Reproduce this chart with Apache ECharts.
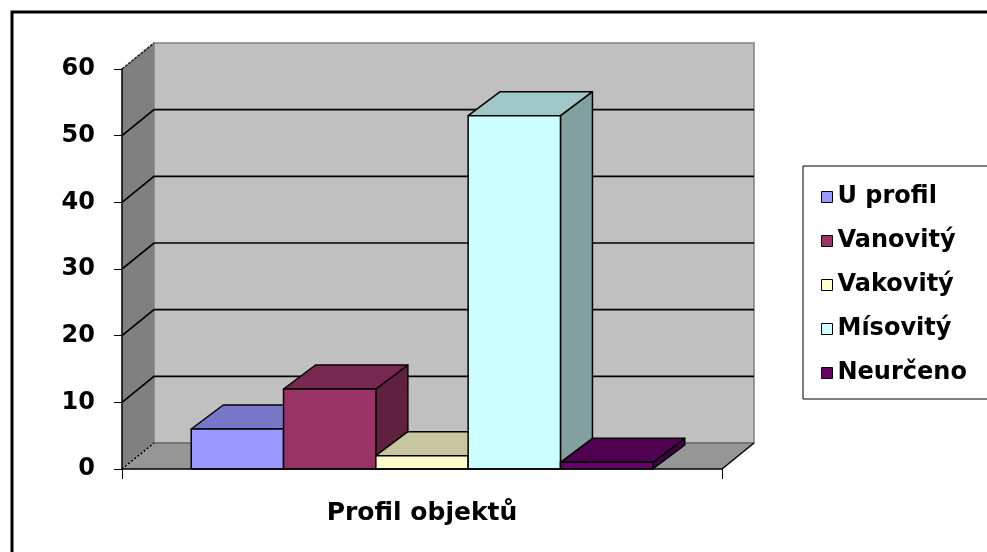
<!DOCTYPE html>
<html>
<head>
<meta charset="utf-8">
<script src="https://cdn.jsdelivr.net/npm/echarts@6/dist/echarts.min.js"></script>
<style>
  html, body { margin: 0; padding: 0; background: #fff; }
  #chart { width: 987px; height: 552px; }
</style>
</head>
<body>
<div id="chart"></div>
<script>
// data
const categories = ['Profil objektů'];
const seriesNames = ['U profil', 'Vanovitý', 'Vakovitý', 'Mísovitý', 'Neurčeno'];
const seriesValues = [6, 12, 2, 53, 1];
const yTicks = [0, 10, 20, 30, 40, 50, 60];
const frontColors = ['#9999FF', '#993366', '#FFFFCC', '#CCFFFF', '#660066'];

const FONT = 'DejaVu Sans';
const DEPTH_X = 32, DEPTH_Y = -26;   // wall depth
const BAR_DX = 32, BAR_DY = -24;     // bar depth

// darker shade of a hex colour for top/side faces
function shade(hex, f) {
  const n = parseInt(hex.slice(1), 16);
  const r = Math.round(((n >> 16) & 255) * f);
  const g = Math.round(((n >> 8) & 255) * f);
  const b = Math.round((n & 255) * f);
  return 'rgb(' + r + ',' + g + ',' + b + ')';
}

// back wall, side wall, floor and grid lines
function renderWalls(params, api) {
  const cs = params.coordSys;
  const x0 = cs.x, x1 = cs.x + cs.width;
  const yb = api.coord([0, yTicks[0]])[1];
  const yT = api.coord([0, yTicks[yTicks.length - 1]])[1];
  const dx = DEPTH_X, dy = DEPTH_Y;
  const children = [
    { type: 'rect', shape: { x: x0 + dx, y: yT + dy, width: x1 - x0, height: yb - yT },
      style: { fill: '#C0C0C0', stroke: '#808080', lineWidth: 1.5 } },
    { type: 'polygon', shape: { points: [[x0, yb], [x0, yT], [x0 + dx, yT + dy], [x0 + dx, yb + dy]] },
      style: { fill: '#808080' } },
    { type: 'polygon', shape: { points: [[x0, yb], [x1, yb], [x1 + dx, yb + dy], [x0 + dx, yb + dy]] },
      style: { fill: '#969696' } },
    { type: 'line', shape: { x1: x0 + dx, y1: yb + dy, x2: x1 + dx, y2: yb + dy },
      style: { stroke: '#6a6a6a', lineWidth: 1.5 } },
    { type: 'line', shape: { x1: x1, y1: yb, x2: x1 + dx, y2: yb + dy },
      style: { stroke: '#000', lineWidth: 1.5 } },
    { type: 'line', shape: { x1: x0, y1: yb, x2: x0 + dx, y2: yb + dy },
      style: { stroke: '#000', lineWidth: 1.5, lineDash: [2, 2] } },
    { type: 'line', shape: { x1: x0, y1: yT, x2: x0 + dx, y2: yT + dy },
      style: { stroke: '#222', lineWidth: 1.5, lineDash: [3, 1] } }
  ];
  yTicks.slice(1, -1).forEach(function (v) {
    const y = api.coord([0, v])[1];
    children.push({
      type: 'polyline',
      shape: { points: [[x0, y], [x0 + dx, y + dy], [x1 + dx, y + dy]] },
      style: { stroke: '#000', lineWidth: 1.7, fill: null }
    });
  });
  return { type: 'group', children: children };
}

// one 3D box per series
function makeBarRender(i) {
  const front = frontColors[i];
  const top = shade(front, 0.78);
  const side = shade(front, 0.63);
  return function (params, api) {
    const base = api.coord([api.value(0), 0]);
    const peak = api.coord([api.value(0), api.value(1)]);
    const band = api.size([1, 0])[0];
    const n = seriesNames.length;
    const bw = band / (n + 1.5);
    const xl = base[0] - bw * n / 2 + i * bw;
    const xr = xl + bw;
    const y0 = base[1], yt = peak[1];
    const dx = BAR_DX, dy = BAR_DY;
    const edge = { stroke: '#000', lineWidth: 1.5, lineJoin: 'round' };
    return {
      type: 'group',
      children: [
        { type: 'polygon', shape: { points: [[xr, yt], [xr, y0], [xr + dx, y0 + dy], [xr + dx, yt + dy]] },
          style: Object.assign({ fill: side }, edge) },
        { type: 'polygon', shape: { points: [[xl, yt], [xr, yt], [xr + dx, yt + dy], [xl + dx, yt + dy]] },
          style: Object.assign({ fill: top }, edge) },
        { type: 'rect', shape: { x: xl, y: yt, width: bw, height: y0 - yt },
          style: Object.assign({ fill: front }, edge) }
      ]
    };
  };
}

const chart = echarts.init(document.getElementById('chart'));

const series = [{
  name: 'walls',
  type: 'custom',
  z: 1,
  silent: true,
  renderItem: renderWalls,
  encode: { x: 0, y: 1 },
  data: [[0, 0]]
}];
seriesNames.forEach(function (name, i) {
  series.push({
    name: name,
    type: 'custom',
    z: 2,
    renderItem: makeBarRender(i),
    encode: { x: 0, y: 1 },
    itemStyle: { color: frontColors[i] },
    data: [[0, seriesValues[i]]]
  });
});

const option = {
  backgroundColor: '#fff',
  animation: false,
  graphic: [{
    type: 'rect',
    shape: { x: 12, y: 12, width: 1000, height: 600 },
    style: { fill: null, stroke: '#000', lineWidth: 3 },
    z: 10
  }],
  grid: { left: 122, right: 265, top: 69, bottom: 83, outerBoundsMode: 'none' },
  legend: {
    orient: 'vertical',
    left: 803,
    top: 166,
    padding: [16, 40, 11, 18],
    backgroundColor: '#fff',
    borderColor: '#000',
    borderWidth: 1,
    borderRadius: 0,
    itemGap: 14,
    itemWidth: 11,
    itemHeight: 11,
    icon: 'rect',
    textStyle: { fontFamily: FONT, fontWeight: 'bold', fontSize: 24, color: '#000', lineHeight: 30 },
    data: seriesNames.map(function (name, i) {
      return { name: name, itemStyle: { color: frontColors[i], borderColor: '#000', borderWidth: 1 } };
    })
  },
  xAxis: {
    type: 'category',
    data: categories,
    z: 3,
    axisLine: { show: true, lineStyle: { color: '#000', width: 1.5 } },
    axisTick: { show: true, length: 10, lineStyle: { color: '#000', width: 1 } },
    axisLabel: { margin: 32, fontFamily: FONT, fontWeight: 'bold', fontSize: 25, color: '#000' },
    splitLine: { show: false }
  },
  yAxis: {
    type: 'value',
    min: 0,
    max: 60,
    interval: 10,
    z: 3,
    axisLine: { show: true, lineStyle: { color: '#000', width: 1.5 } },
    axisTick: { show: true, length: 8, lineStyle: { color: '#000', width: 1 } },
    axisLabel: { margin: 27, fontFamily: FONT, fontWeight: 'bold', fontSize: 24, color: '#000' },
    splitLine: { show: false }
  },
  series: series
};

chart.setOption(option);
</script>
</body>
</html>
